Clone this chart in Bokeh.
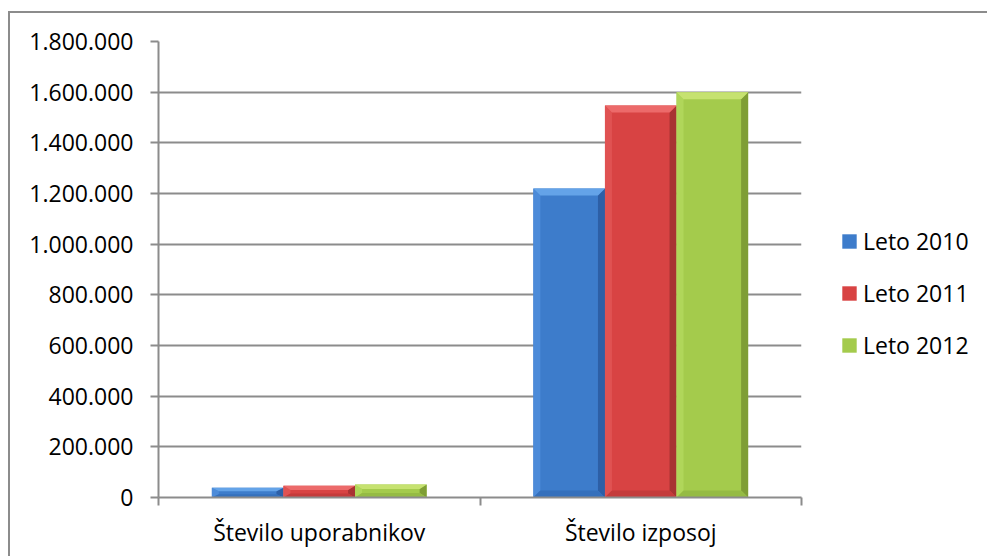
from bokeh.plotting import figure
from bokeh.models import Range1d, FixedTicker, Legend, LegendItem, ColumnDataSource
from bokeh.embed import file_html
from bokeh.resources import INLINE

# ---- data ----
categories = ["Število uporabnikov", "Število izposoj"]
series_names = ["Leto 2010", "Leto 2011", "Leto 2012"]
leto_2010 = [38000, 1220000]
leto_2011 = [46000, 1547000]
leto_2012 = [51000, 1600000]
y_ticks = [0, 200000, 400000, 600000, 800000, 1000000, 1200000, 1400000, 1600000, 1800000]
y_tick_labels = ["0", "200.000", "400.000", "600.000", "800.000", "1.000.000",
                 "1.200.000", "1.400.000", "1.600.000", "1.800.000"]

# ---- styles ----
main_cols = ["#3D7CCB", "#D84343", "#A4CB4C"]
top_cols = ["#64A3E8", "#EC6A6A", "#C6E270"]
left_cols = ["#4C8BD9", "#E05252", "#B0D65A"]
right_cols = ["#2D5FA6", "#A83333", "#7F9E35"]
bot_cols = ["#3570BC", "#C43B3B", "#95BB44"]
FONT = "Open Sans"
GRID = "#8C8C8C"

p = figure(frame_width=643, frame_height=456, output_backend="svg",
           toolbar_location=None,
           x_range=Range1d(0, 2), y_range=Range1d(0, 1800000),
           min_border_left=148, min_border_top=28, min_border_right=186,
           min_border_bottom=59)
p.outline_line_color = None
p.background_fill_color = "white"
p.border_fill_color = "white"
p.styles = {"border-top": "2px solid #8C8C8C", "border-left": "2px solid #8C8C8C",
            "margin-left": "8px", "margin-top": "11px"}

group_w = 0.668
bar_w = group_w / 3
bx = 7.0 / 321.5          # bevel size in x data units (~7 px)
by_full = 7.0 * 1800000 / 456.0  # bevel size in y data units (~7 px)

series = [leto_2010, leto_2011, leto_2012]
legend_items = []
for i, vals in enumerate(series):
    off = (i - 1) * bar_w
    xs_c = [k + 0.5 + off for k in range(len(categories))]
    src = ColumnDataSource(dict(x=xs_c, top=vals))
    r = p.vbar(x="x", top="top", bottom=0, width=bar_w, source=src,
               fill_color=main_cols[i], line_color=None)
    legend_items.append(LegendItem(label=series_names[i], renderers=[r]))
    tx, ty, lx, ly, rx, ry, bxs, bys = [], [], [], [], [], [], [], []
    for xc, v in zip(xs_c, vals):
        x0, x1 = xc - bar_w / 2, xc + bar_w / 2
        b = min(by_full, v * 0.35)
        tx.append([x0, x1, x1 - bx, x0 + bx]); ty.append([v, v, v - b, v - b])
        lx.append([x0, x0 + bx, x0 + bx, x0]); ly.append([v, v - b, b, 0])
        rx.append([x1, x1 - bx, x1 - bx, x1]); ry.append([v, v - b, b, 0])
        bxs.append([x0, x0 + bx, x1 - bx, x1]); bys.append([0, b, b, 0])
    p.patches(lx, ly, fill_color=left_cols[i], line_color=None)
    p.patches(rx, ry, fill_color=right_cols[i], line_color=None)
    p.patches(bxs, bys, fill_color=bot_cols[i], line_color=None)
    p.patches(tx, ty, fill_color=top_cols[i], line_color=None)

# ---- axes ----
yax = p.yaxis[0]
yax.ticker = FixedTicker(ticks=y_ticks, minor_ticks=[])
yax.major_label_overrides = {t: l for t, l in zip(y_ticks, y_tick_labels)}
yax.major_label_text_font = FONT
yax.major_label_text_font_size = "23px"
yax.major_label_text_color = "black"
yax.axis_line_color = GRID
yax.axis_line_width = 2
yax.major_tick_line_color = GRID
yax.major_tick_line_width = 2
yax.major_tick_out = 8
yax.major_tick_in = 0
yax.major_label_standoff = 17

xax = p.xaxis[0]
xax.ticker = FixedTicker(ticks=[0.5, 1.5], minor_ticks=[0, 1, 2])
xax.major_label_overrides = {0.5: categories[0], 1.5: categories[1]}
xax.major_label_text_font = FONT
xax.major_label_text_font_size = "23px"
xax.major_label_text_color = "black"
xax.axis_line_color = GRID
xax.axis_line_width = 2
xax.major_tick_line_color = None
xax.major_tick_out = 0
xax.major_tick_in = 0
xax.minor_tick_line_color = GRID
xax.minor_tick_line_width = 2
xax.minor_tick_out = 8
xax.minor_tick_in = 0
xax.major_label_standoff = 10

p.xgrid.visible = False
p.ygrid.ticker = FixedTicker(ticks=y_ticks)
p.ygrid.grid_line_color = GRID
p.ygrid.grid_line_width = 2

# ---- legend ----
legend = Legend(items=legend_items, location=(39, 136), orientation="vertical")
legend.label_text_font = FONT
legend.label_text_font_size = "23px"
legend.label_text_color = "black"
legend.glyph_width = 18
legend.glyph_height = 18
legend.label_height = 24
legend.spacing = 20
legend.label_standoff = 5
legend.padding = 10
legend.margin = 0
legend.border_line_color = None
legend.background_fill_alpha = 0
p.add_layout(legend, "right")

open("out.html", "w").write(file_html(p, INLINE))
